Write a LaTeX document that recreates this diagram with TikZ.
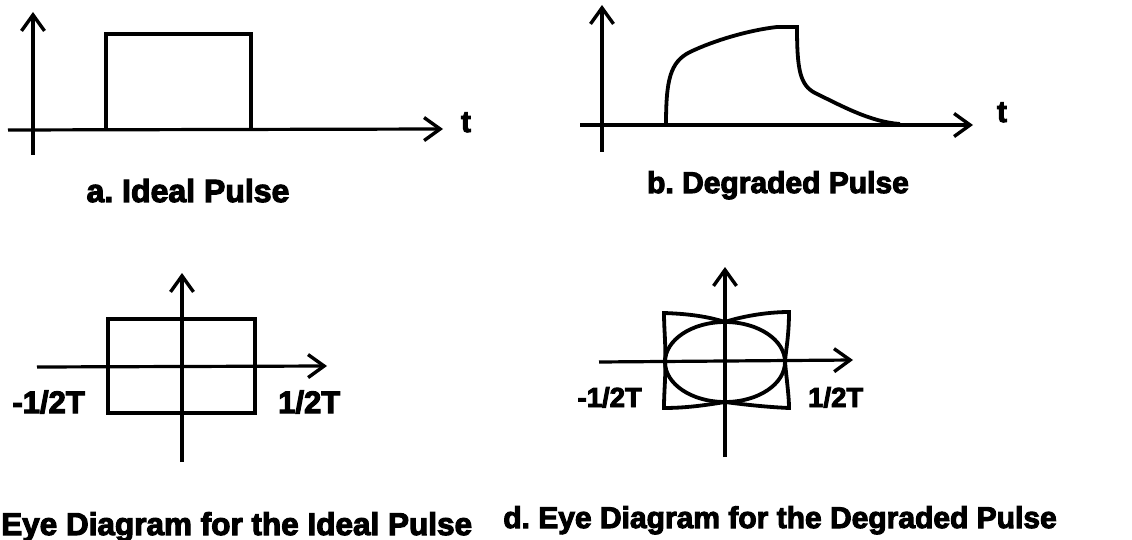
\documentclass[tikz,border=0pt]{standalone}
\usepackage{fontspec}
\setmainfont{Liberation Sans}
\newfontfamily\heavy{Liberation Sans Bold}[RawFeature={embolden=3.5}]
\usetikzlibrary{arrows.meta}
\tikzset{
  axis/.style={line width=3.2pt, -{Straight Barb[length=16pt,width=23pt,line width=3.4pt]}},
  wave/.style={line width=3.8pt, line join=miter},
  lbl/.style={inner sep=0pt}
}
\newcommand{\fs}[1]{\fontsize{#1}{#1}\selectfont}
\frenchspacing
\begin{document}
\begin{tikzpicture}[x=1pt,y=-1pt]
\useasboundingbox (0,0) rectangle (1132,540);
% ---------- a. Ideal pulse ----------
\coordinate (aVb) at (33,155);
\coordinate (aVt) at (33,12);
\coordinate (aHl) at (8,130);
\coordinate (aHr) at (443,129);
\draw[axis] (aVb) -- (aVt);
\draw[axis] (aHl) -- (aHr);
\coordinate (a1) at (106,130);
\coordinate (a2) at (106,34);
\coordinate (a3) at (251,34);
\coordinate (a4) at (251,130);
\draw[wave] (a1) -- (a2) -- (a3) -- (a4);
\node[lbl, anchor=base, font=\heavy\fs{30}] (at) at (466,132) {t};
\node[lbl, anchor=base, font=\heavy\fs{32}] (acap) at (188,202) {a. Ideal Pulse};
% ---------- b. Degraded pulse ----------
\coordinate (bVb) at (602,152);
\coordinate (bVt) at (602,5);
\coordinate (bHl) at (580,125);
\coordinate (bHr) at (973,125);
\draw[axis] (bVb) -- (bVt);
\draw[axis] (bHl) -- (bHr);
\coordinate (b0) at (666,125);
\coordinate (b1) at (690,52);
\coordinate (b2) at (777,27);
\coordinate (b3) at (797,27);
\coordinate (b4) at (815,93);
\coordinate (b5) at (900,124);
\draw[wave] (b0) .. controls (666,80) and (670,62) .. (b1)
  .. controls (715,40) and (750,30) .. (b2) -- (b3)
  .. controls (797,70) and (800,85) .. (b4)
  .. controls (840,105) and (870,122) .. (b5);
\node[lbl, anchor=base, font=\heavy\fs{30}] (bt) at (1002,122) {t};
\node[lbl, anchor=base, font=\heavy\fs{30}] (bcap) at (778,193) {b. Degraded Pulse};
% ---------- c. Eye diagram ideal ----------
\coordinate (cVb) at (182,462);
\coordinate (cVt) at (182,273);
\coordinate (cHl) at (37,367);
\coordinate (cHr) at (327,366);
\draw[axis] (cVb) -- (cVt);
\draw[axis] (cHl) -- (cHr);
\coordinate (c1) at (108,319);
\coordinate (c2) at (255,413);
\draw[wave] (c1) rectangle (c2);
\node[lbl, anchor=base east, font=\heavy\fs{31}] (cl) at (85,413) {-1/2T};
\node[lbl, anchor=base west, font=\heavy\fs{31}] (cr) at (278,413) {1/2T};
\node[lbl, anchor=base west, font=\heavy\fs{31.5}] (ccap) at (1,535) {Eye Diagram for the Ideal Pulse};
% ---------- d. Eye diagram degraded ----------
\coordinate (dVb) at (725,457);
\coordinate (dVt) at (725,267);
\coordinate (dHl) at (599,362);
\coordinate (dHr) at (853,360);
\draw[axis] (dVb) -- (dVt);
\draw[axis] (dHl) -- (dHr);
\coordinate (dC) at (725,362);
\draw[wave] (dC) ellipse [x radius=60, y radius=40];
\coordinate (dTL) at (664,313);
\coordinate (dT) at (725,322);
\coordinate (dTR) at (789,312);
\coordinate (dR) at (785,361);
\coordinate (dBR) at (789,408);
\coordinate (dB) at (725,402);
\coordinate (dBL) at (664,408);
\coordinate (dL) at (665,361);
\draw[wave] (dTL) .. controls (695,314) and (712,318) .. (dT)
  .. controls (740,317) and (765,312) .. (dTR)
  .. controls (789,335) and (786,350) .. (dR)
  .. controls (786,375) and (789,395) .. (dBR)
  .. controls (765,407) and (740,404) .. (dB)
  .. controls (712,404) and (690,408) .. (dBL)
  .. controls (664,390) and (666,375) .. (dL)
  .. controls (666,345) and (664,330) .. (dTL) -- cycle;
\node[lbl, anchor=base east, font=\heavy\fs{27.5}] (dl) at (642,407) {-1/2T};
\node[lbl, anchor=base west, font=\heavy\fs{27.5}] (dr) at (808,407) {1/2T};
\node[lbl, anchor=base east, font=\heavy\fs{30}] (dcap) at (1057,528) {d. Eye Diagram for the Degraded Pulse};
\end{tikzpicture}
\end{document}
